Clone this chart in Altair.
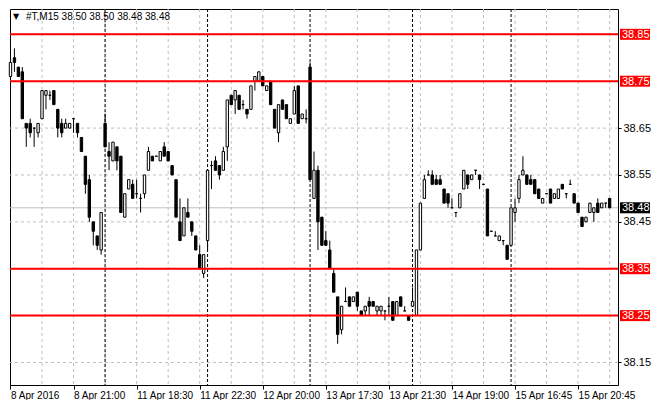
import altair as alt
import pandas as pd
import numpy as np

# ---- data (M15 bars of #T) ----
opens = [38.76, 38.80, 38.78, 38.77, 38.66, 38.66, 38.65, 38.64, 38.67, 38.72,
         38.72, 38.73, 38.69, 38.66, 38.65, 38.65, 38.67, 38.66, 38.63, 38.59,
         38.54, 38.45, 38.42, 38.39, 38.66, 38.60, 38.58, 38.61, 38.59, 38.46,
         38.52, 38.53, 38.51, 38.50, 38.51, 38.56, 38.59, 38.59, 38.58, 38.61,
         38.60, 38.57, 38.54, 38.45, 38.42, 38.47, 38.45, 38.42, 38.38, 38.34,
         38.41, 38.57, 38.58, 38.57, 38.56, 38.61, 38.72, 38.71, 38.72, 38.70,
         38.69, 38.69, 38.75, 38.75, 38.76, 38.73, 38.75, 38.69, 38.64, 38.71,
         38.70, 38.66, 38.68, 38.74, 38.67, 38.67, 38.78, 38.50, 38.56, 38.46,
         38.41, 38.39, 38.34, 38.29, 38.22, 38.28, 38.29, 38.28, 38.30, 38.26,
         38.26, 38.28, 38.28, 38.26, 38.26, 38.26, 38.27, 38.28, 38.25, 38.29,
         38.26, 38.25, 38.27, 38.25, 38.39, 38.50, 38.55, 38.55, 38.54, 38.54,
         38.52, 38.51, 38.48, 38.47, 38.48, 38.52, 38.55, 38.54, 38.56, 38.55,
         38.53, 38.52, 38.43, 38.42, 38.41, 38.41, 38.40, 38.40, 38.47, 38.50,
         38.55, 38.55, 38.54, 38.54, 38.52, 38.49, 38.51, 38.52, 38.50, 38.50,
         38.53, 38.51, 38.53, 38.51, 38.49, 38.46, 38.45, 38.47, 38.47, 38.49,
         38.48, 38.49, 38.50]
highs = [38.83, 38.82, 38.78, 38.78, 38.66, 38.67, 38.65, 38.66, 38.73, 38.73,
         38.73, 38.73, 38.69, 38.67, 38.67, 38.66, 38.67, 38.66, 38.63, 38.59,
         38.55, 38.45, 38.42, 38.47, 38.68, 38.62, 38.62, 38.61, 38.59, 38.51,
         38.54, 38.54, 38.54, 38.51, 38.55, 38.61, 38.59, 38.59, 38.60, 38.62,
         38.60, 38.57, 38.54, 38.50, 38.48, 38.50, 38.45, 38.42, 38.40, 38.38,
         38.56, 38.58, 38.59, 38.57, 38.61, 38.71, 38.72, 38.73, 38.72, 38.71,
         38.69, 38.74, 38.76, 38.77, 38.76, 38.74, 38.75, 38.69, 38.70, 38.71,
         38.70, 38.67, 38.74, 38.74, 38.68, 38.69, 38.79, 38.60, 38.57, 38.46,
         38.43, 38.41, 38.35, 38.29, 38.27, 38.31, 38.29, 38.29, 38.30, 38.26,
         38.27, 38.29, 38.28, 38.27, 38.27, 38.26, 38.29, 38.28, 38.28, 38.29,
         38.27, 38.25, 38.31, 38.39, 38.49, 38.55, 38.56, 38.56, 38.55, 38.55,
         38.52, 38.51, 38.50, 38.47, 38.51, 38.56, 38.55, 38.55, 38.56, 38.55,
         38.53, 38.52, 38.43, 38.43, 38.42, 38.41, 38.40, 38.48, 38.50, 38.55,
         38.59, 38.55, 38.55, 38.54, 38.52, 38.50, 38.51, 38.52, 38.51, 38.52,
         38.53, 38.51, 38.54, 38.51, 38.49, 38.46, 38.46, 38.49, 38.48, 38.50,
         38.49, 38.49, 38.50]
lows = [38.76, 38.77, 38.76, 38.67, 38.61, 38.63, 38.61, 38.63, 38.67, 38.69,
        38.71, 38.70, 38.63, 38.63, 38.65, 38.65, 38.64, 38.63, 38.60, 38.51,
        38.45, 38.40, 38.39, 38.38, 38.61, 38.56, 38.58, 38.56, 38.47, 38.46,
        38.52, 38.50, 38.50, 38.47, 38.50, 38.56, 38.58, 38.59, 38.58, 38.59,
        38.58, 38.55, 38.46, 38.41, 38.42, 38.46, 38.42, 38.39, 38.35, 38.33,
        38.39, 38.52, 38.56, 38.54, 38.56, 38.58, 38.70, 38.68, 38.69, 38.69,
        38.67, 38.69, 38.73, 38.75, 38.74, 38.73, 38.70, 38.65, 38.62, 38.69,
        38.67, 38.66, 38.68, 38.66, 38.67, 38.66, 38.54, 38.50, 38.39, 38.40,
        38.40, 38.35, 38.30, 38.19, 38.21, 38.28, 38.27, 38.28, 38.26, 38.25,
        38.25, 38.25, 38.27, 38.25, 38.25, 38.24, 38.25, 38.24, 38.25, 38.27,
        38.26, 38.24, 38.27, 38.25, 38.39, 38.50, 38.55, 38.53, 38.53, 38.53,
        38.49, 38.48, 38.48, 38.46, 38.48, 38.52, 38.52, 38.54, 38.55, 38.52,
        38.53, 38.42, 38.43, 38.42, 38.41, 38.40, 38.37, 38.40, 38.45, 38.49,
        38.55, 38.53, 38.53, 38.51, 38.50, 38.49, 38.51, 38.49, 38.50, 38.50,
        38.52, 38.50, 38.53, 38.49, 38.47, 38.44, 38.45, 38.47, 38.45, 38.47,
        38.48, 38.48, 38.48]
closes = [38.79, 38.79, 38.76, 38.67, 38.65, 38.64, 38.65, 38.66, 38.73, 38.73,
          38.72, 38.70, 38.65, 38.64, 38.66, 38.66, 38.67, 38.64, 38.60, 38.53,
          38.46, 38.43, 38.40, 38.47, 38.61, 38.59, 38.62, 38.58, 38.47, 38.51,
          38.54, 38.50, 38.51, 38.50, 38.55, 38.60, 38.58, 38.59, 38.60, 38.59,
          38.58, 38.55, 38.46, 38.41, 38.48, 38.46, 38.43, 38.39, 38.35, 38.38,
          38.56, 38.57, 38.56, 38.55, 38.60, 38.71, 38.70, 38.73, 38.69, 38.70,
          38.68, 38.74, 38.76, 38.77, 38.74, 38.74, 38.70, 38.65, 38.70, 38.69,
          38.67, 38.67, 38.73, 38.66, 38.68, 38.67, 38.54, 38.56, 38.45, 38.40,
          38.40, 38.35, 38.30, 38.21, 38.27, 38.28, 38.27, 38.29, 38.27, 38.25,
          38.27, 38.27, 38.27, 38.27, 38.27, 38.26, 38.27, 38.24, 38.28, 38.27,
          38.26, 38.24, 38.28, 38.39, 38.49, 38.54, 38.55, 38.53, 38.53, 38.53,
          38.49, 38.49, 38.48, 38.47, 38.51, 38.56, 38.53, 38.55, 38.56, 38.54,
          38.53, 38.42, 38.43, 38.42, 38.42, 38.41, 38.37, 38.48, 38.48, 38.54,
          38.56, 38.53, 38.53, 38.51, 38.50, 38.50, 38.51, 38.49, 38.51, 38.52,
          38.52, 38.51, 38.53, 38.49, 38.47, 38.44, 38.46, 38.49, 38.48, 38.47,
          38.49, 38.49, 38.48]

time_labels = ["8 Apr 2016", "8 Apr 21:00", "11 Apr 18:30", "11 Apr 22:30",
               "12 Apr 20:00", "13 Apr 17:30", "13 Apr 21:30", "14 Apr 19:00",
               "15 Apr 16:45", "15 Apr 20:45"]
label_bars = [0, 16, 32, 48, 64, 80, 96, 112, 128, 144]
grid_bars = [8, 16, 24, 32, 40, 48, 56, 64, 72, 80, 88, 96, 104, 112, 120,
             128, 136, 144, 152]
day_breaks = [24, 50, 76, 102, 127]
price_grid = [38.15, 38.25, 38.35, 38.45, 38.55, 38.65, 38.75, 38.85]
axis_prices = [38.15, 38.45, 38.55, 38.65]
red_levels = [38.85, 38.75, 38.35, 38.25]
last_price = 38.48
symbol_text = "#T,M15  38.50 38.50 38.48 38.48"

# ---- layout ----
W, H = 608, 376
FONT = "Liberation Sans, DejaVu Sans, sans-serif"
xs = alt.Scale(domain=[-0.125, 154.125], nice=False, zero=False)
ys = alt.Scale(domain=[38.102, 38.904], nice=False, zero=False)

n = len(opens)
df = pd.DataFrame({"i": np.arange(n), "o": opens, "h": highs, "l": lows, "c": closes})
df["dir"] = np.where(df["c"] >= df["o"], "up", "down")

lab_js = "[" + ",".join("'" + s + "'" for s in time_labels) + "]"
bars_js = "[" + ",".join(str(b) for b in label_bars) + "]"
xaxis = alt.Axis(values=label_bars, labelExpr=f"{lab_js}[indexof({bars_js}, datum.value)]",
                 grid=False, domain=False, tickSize=4, tickColor="black",
                 labelAlign="left", labelFont=FONT, labelFontSize=10, labelColor="black",
                 labelPadding=1, labelFlush=False, labelOverlap=False, title=None)
yaxis = alt.Axis(orient="right", values=axis_prices, format=".2f", grid=False, domain=False,
                 tickSize=3, tickColor="black", labelFont=FONT, labelFontSize=11,
                 labelColor="black", labelPadding=2, title=None)

def X(field):
    return alt.X(f"{field}:Q", scale=xs, axis=xaxis, title=None)

def Y(field):
    return alt.Y(f"{field}:Q", scale=ys, axis=yaxis, title=None)

vgrid = alt.Chart(pd.DataFrame({"i": grid_bars})).mark_rule(
    color="#c0c0c0", strokeDash=[3, 3], strokeWidth=1).encode(x=X("i"))
hgrid = alt.Chart(pd.DataFrame({"p": price_grid})).mark_rule(
    color="#c0c0c0", strokeDash=[3, 3], strokeWidth=1).encode(y=Y("p"))
bid = alt.Chart(pd.DataFrame({"p": [last_price]})).mark_rule(
    color="#c0c0c0", strokeWidth=1).encode(y=Y("p"))
seps = alt.Chart(pd.DataFrame({"i": day_breaks})).mark_rule(
    color="black", strokeDash=[3, 2], strokeWidth=1).encode(x=X("i"))

wicks = alt.Chart(df).mark_rule(color="black", strokeWidth=1).encode(
    x=X("i"), y=Y("l"), y2="h:Q")
bodies = alt.Chart(df).transform_calculate(
    x0="datum.i - 0.3", x1="datum.i + 0.3"
).mark_rect(stroke="black", strokeWidth=1).encode(
    x=X("x0"), x2="x1:Q", y=Y("o"), y2="c:Q",
    fill=alt.Fill("dir:N", scale=alt.Scale(domain=["up", "down"], range=["white", "black"]),
                  legend=None))

reds = alt.Chart(pd.DataFrame({"p": red_levels})).mark_rule(
    color="#ff0000", strokeWidth=2).encode(y=Y("p"))

box_df = pd.DataFrame({"p": red_levels + [last_price],
                       "bg": ["#ff0000"] * len(red_levels) + ["black"]})
box_df["t"] = box_df["p"].map(lambda v: f"{v:.2f}")
boxes = alt.Chart(box_df).mark_tick(orient="horizontal", size=30, thickness=11, opacity=1).encode(
    x=alt.value(W + 17), y=Y("p"), color=alt.Color("bg:N", scale=None))
box_text = alt.Chart(box_df).mark_text(
    align="left", baseline="middle", font=FONT, fontSize=11, color="white", dy=0.5).encode(
    x=alt.value(W + 4), y=Y("p"), text="t:N")

tri = alt.Chart(pd.DataFrame({"t": ["▼"]})).mark_text(
    align="left", baseline="middle", font="DejaVu Sans", fontSize=8, color="black").encode(
    x=alt.value(3), y=alt.value(8), text="t:N")
title = alt.Chart(pd.DataFrame({"t": [symbol_text]})).mark_text(
    align="left", baseline="middle", font=FONT, fontSize=10, color="black").encode(
    x=alt.value(16), y=alt.value(8), text="t:N")

chart = alt.layer(vgrid, hgrid, bid, seps, wicks, bodies, reds, boxes, box_text, tri, title).properties(
    width=W, height=H, padding={"left": 0, "top": 0, "right": 0, "bottom": 0},
    background="white"
).configure_view(stroke="black", strokeWidth=1)

chart.save("out.html", embed_options={"renderer": "svg", "actions": False})
